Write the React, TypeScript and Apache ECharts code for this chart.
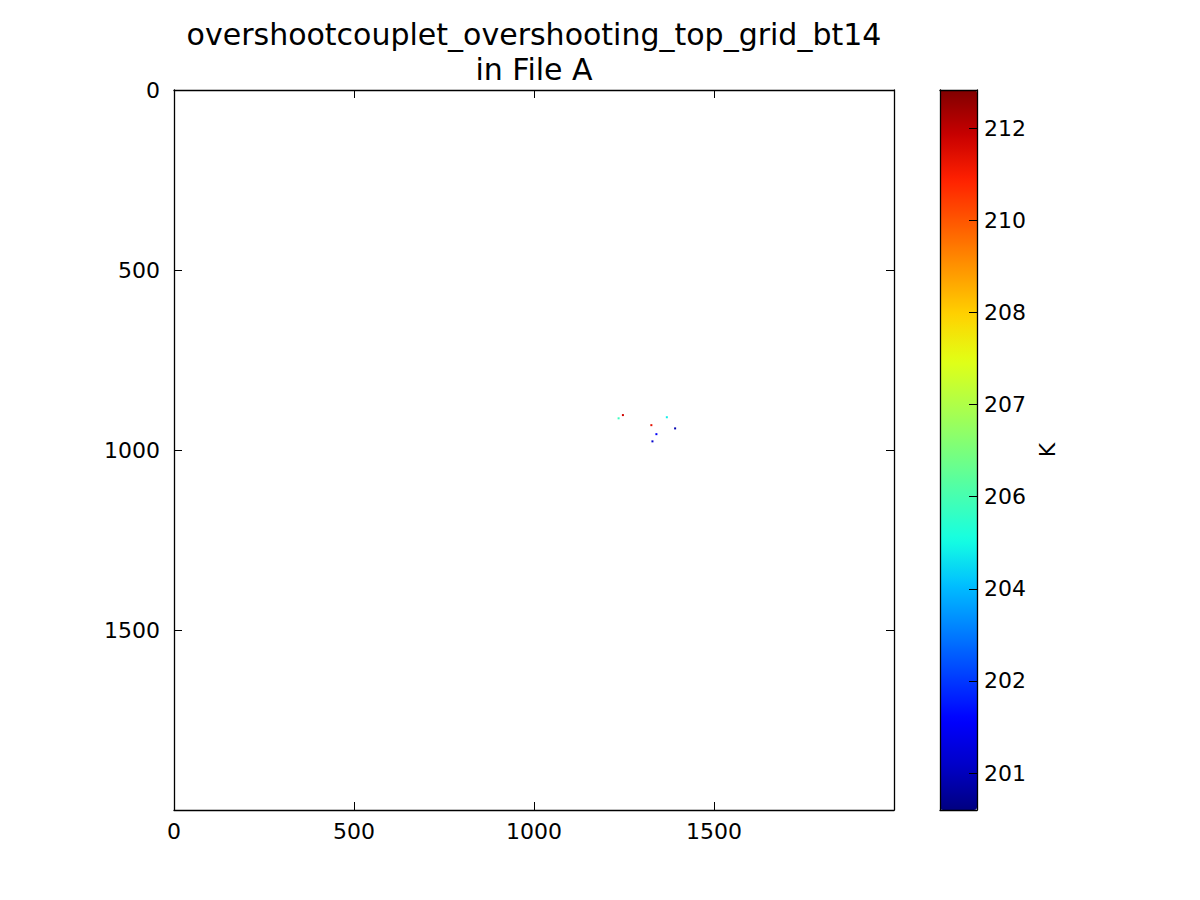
import React, { useEffect, useRef } from "react";
import * as echarts from "echarts";

const titleLines = ["overshootcouplet_overshooting_top_grid_bt14", "in File A"];
const pointX = [1247, 1235, 1369, 1326, 1392, 1340, 1329];
const pointY = [903, 912, 909, 931, 940, 956, 976];
const pointValue = [211.3, 205.3, 204.6, 211.0, 200.9, 201.8, 201.2];
const colorbarMin = 200.4;
const colorbarMax = 212.12;
const colorbarTickValues = [201, 202.5, 204, 205.5, 207, 208.5, 210, 211.5];
const colorbarTickLabels = ["201", "202", "204", "206", "207", "208", "210", "212"];
const jetColors = [
  "#000080", "#0000c8", "#0000ff", "#0040ff", "#0080ff", "#00bfff", "#15ffe2", "#48ffaf",
  "#7bff7b", "#afff48", "#e2ff15", "#ffd200", "#ff9700", "#ff5c00", "#ff2100", "#c80000", "#800000",
];
const unitLabel = "K";

const FONT = "DejaVu Sans";

export default function App() {
  const ref = useRef<HTMLDivElement>(null);
  useEffect(() => {
    if (!ref.current) return;
    const chart = echarts.init(ref.current, undefined, { renderer: "svg" });
    const data = pointX.map((x, i) => [x, pointY[i], pointValue[i]]);
    const lineStyle = { color: "#000", width: 1.3 };
    const baseAxis = {
      type: "value" as const,
      min: 0,
      max: 2000,
      interval: 500,
      splitLine: { show: false },
      axisLine: { show: true, onZero: false, lineStyle },
      axisTick: { show: true, inside: true, length: 8, lineStyle: { color: "#000", width: 1 } },
    };
    const plainLabel = (v: number) => String(v);
    const frameAxis = (gridIndex: number, position: string, min: number, max: number) => ({
      type: "value", gridIndex, min, max, position, z: 10,
      axisLine: { show: true, onZero: false, lineStyle },
      axisTick: { show: false }, axisLabel: { show: false }, splitLine: { show: false },
    });
    chart.setOption({
      animation: false,
      backgroundColor: "#fff",
      title: {
        text: titleLines.join("\n"),
        left: 529,
        top: 12,
        textAlign: "center",
        textStyle: { fontFamily: FONT, fontSize: 30, fontWeight: "normal", color: "#000", lineHeight: 35 },
      },
      grid: [
        { left: 174, top: 90, width: 720, height: 720, show: false },
        { left: 940, top: 90, width: 37, height: 720, show: false },
      ],
      xAxis: [
        {
          ...baseAxis,
          gridIndex: 0,
          position: "bottom",
          axisLabel: { show: true, showMaxLabel: false, margin: 10, fontFamily: FONT, fontSize: 22, color: "#000", formatter: plainLabel },
        },
        {
          ...baseAxis,
          gridIndex: 0,
          position: "top",
          axisLabel: { show: false },
        },
        frameAxis(1, "bottom", 0, 1),
        frameAxis(1, "top", 0, 1),
      ],
      yAxis: [
        {
          ...baseAxis,
          gridIndex: 0,
          inverse: true,
          position: "left",
          axisLabel: { show: true, showMaxLabel: false, margin: 14, fontFamily: FONT, fontSize: 22, color: "#000", formatter: plainLabel },
        },
        {
          ...baseAxis,
          gridIndex: 0,
          inverse: true,
          position: "right",
          axisLabel: { show: false },
        },
        {
          type: "value", gridIndex: 1, min: colorbarMin, max: colorbarMax, position: "right", z: 10,
          axisLine: { show: true, onZero: false, lineStyle },
          axisTick: { show: true, inside: true, length: 8, customValues: colorbarTickValues, lineStyle: { color: "#000", width: 1 } },
          axisLabel: {
            show: true, margin: 7, fontFamily: FONT, fontSize: 22, color: "#000",
            customValues: colorbarTickValues,
            formatter: (v: number) => {
              const idx = colorbarTickValues.findIndex((t) => Math.abs(t - v) < 1e-6);
              return idx >= 0 ? colorbarTickLabels[idx] : "";
            },
          },
          splitLine: { show: false },
        },
        frameAxis(1, "left", colorbarMin, colorbarMax),
      ],
      visualMap: {
        type: "continuous",
        show: true,
        min: colorbarMin,
        max: colorbarMax,
        dimension: 2,
        seriesIndex: 0,
        left: 940,
        top: 90,
        itemWidth: 37,
        itemHeight: 720,
        padding: 0,
        calculable: false,
        hoverLink: false,
        realtime: false,
        showLabel: false,
        inRange: { color: jetColors },
      },
      graphic: [
        {
          type: "text",
          x: 1047,
          y: 450,
          rotation: Math.PI / 2,
          style: { text: unitLabel, fontFamily: FONT, fontSize: 22, fill: "#000", textAlign: "center", textVerticalAlign: "middle" },
        },
      ],
      series: [
        {
          type: "scatter",
          xAxisIndex: 0,
          yAxisIndex: 0,
          symbol: "rect",
          symbolSize: 2,
          data,
          itemStyle: { opacity: 1 },
        },
      ],
    });
    return () => chart.dispose();
  }, []);
  return <div ref={ref} style={{ position: "fixed", left: 0, top: 0, width: 1200, height: 900 }} />;
}
